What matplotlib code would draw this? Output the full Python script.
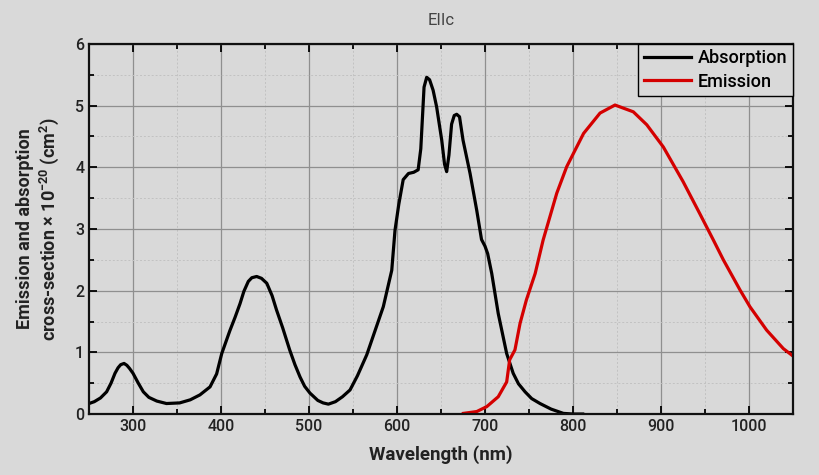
import matplotlib
matplotlib.use("Agg")
import matplotlib.pyplot as plt
from matplotlib.ticker import MultipleLocator

# absorption spectrum (nm, 1e-20 cm^2)
abs_wl = [250, 256, 263, 270, 275, 279.5, 283, 286, 289.8, 293, 296, 300, 306, 311.7, 318, 327,
          338, 353, 365, 376, 387.5, 395, 400.8, 410, 416, 421.6, 426, 431, 435, 440.5, 446,
          452, 458, 463, 470, 478, 484, 489.8, 495, 501, 510, 516, 522, 530, 538, 546.6, 555,
          565.6, 575, 584.4, 594, 597.7, 602, 607, 613, 619, 624, 627, 630.7, 633.7, 637,
          641, 645, 650.8, 654, 656.4, 659, 662, 665, 667.8, 671, 675, 683, 690.6, 696, 700,
          703, 707.6, 715, 724.6, 732, 738, 745.5, 753, 762.5, 775, 789, 800, 811]
abs_val = [0.17, 0.2, 0.26, 0.36, 0.5, 0.66, 0.75, 0.8, 0.82, 0.79, 0.74, 0.66, 0.5, 0.36, 0.27,
           0.21, 0.17, 0.18, 0.23, 0.31, 0.44, 0.65, 0.98, 1.35, 1.57, 1.79, 1.99, 2.15, 2.21,
           2.23, 2.2, 2.12, 1.92, 1.69, 1.4, 1.04, 0.8, 0.6, 0.45, 0.34, 0.22, 0.18, 0.16, 0.2,
           0.28, 0.39, 0.62, 0.96, 1.35, 1.74, 2.33, 2.98, 3.4, 3.8, 3.9, 3.92, 3.96, 4.3, 5.3,
           5.46, 5.42, 5.25, 4.98, 4.44, 4.05, 3.93, 4.2, 4.7, 4.84, 4.86, 4.82, 4.44, 3.9,
           3.3, 2.83, 2.72, 2.6, 2.28, 1.63, 0.98, 0.66, 0.49, 0.36, 0.25, 0.17, 0.08, 0.01,
           0.0, 0.0]

# emission spectrum
em_wl = [675.4, 690.6, 702, 715, 724.6, 728, 734, 739.8, 747, 757, 766, 781.5, 792.8, 812,
         830.7, 847.7, 868.5, 883.8, 902.6, 925, 944, 959.5, 970.8, 989.8, 1001, 1020,
         1039, 1050]
em_val = [0.01, 0.04, 0.12, 0.28, 0.52, 0.88, 1.04, 1.47, 1.85, 2.28, 2.82, 3.58, 4.01, 4.55,
          4.88, 5.01, 4.9, 4.69, 4.33, 3.77, 3.25, 2.82, 2.5, 2.01, 1.74, 1.36,
          1.06, 0.94]

bg = "#d9d9d9"
plt.rcParams["font.family"] = ["Roboto", "DejaVu Sans"]
plt.rcParams["mathtext.fontset"] = "custom"
plt.rcParams["mathtext.rm"] = "Roboto"
plt.rcParams["mathtext.bf"] = "Roboto:bold"

fig = plt.figure(figsize=(8.19, 4.75), dpi=100, facecolor=bg)
ax = fig.add_axes([0.1087, 0.1284, 0.8596, 0.779])
ax.set_facecolor(bg)

ax.plot(abs_wl, abs_val, color="black", lw=2.3, label="Absorption")
ax.plot(em_wl, em_val, color="#d40000", lw=2.3, label="Emission")

ax.set_xlim(250, 1050)
ax.set_ylim(0, 6)
ax.xaxis.set_major_locator(MultipleLocator(100))
ax.xaxis.set_minor_locator(MultipleLocator(50))
ax.yaxis.set_major_locator(MultipleLocator(1))
ax.yaxis.set_minor_locator(MultipleLocator(0.5))

ax.grid(which="major", color="#8f8f8f", lw=0.9)
ax.grid(which="minor", color="#c2c2c2", lw=0.7, ls=(0, (2, 2)))
ax.set_axisbelow(True)

ax.tick_params(which="both", direction="in", top=True, right=True, width=1.3,
               labelsize=11.5, colors="black", labelcolor="#222222")
ax.tick_params(which="major", length=6)
ax.tick_params(which="minor", length=3.5)
for lab in ax.get_xticklabels() + ax.get_yticklabels():
    lab.set_fontweight("medium")
for s in ax.spines.values():
    s.set_linewidth(1.6)
    s.set_color("#111111")

ax.set_xlabel("Wavelength (nm)", fontsize=13.5, fontweight="bold", color="#222222", labelpad=8)
ax.set_ylabel("Emission and absorption\ncross-section \u00d7 10$^{\\mathbf{-20}}$ (cm$^{\\mathbf{2}}$)",
              fontsize=13, fontweight="bold", color="#222222", labelpad=10)
ax.set_title("EIIc", fontsize=12, color="#444444", pad=14)

leg = ax.legend(loc="upper right", bbox_to_anchor=(1.0, 1.0),
                prop={"size": 13, "weight": "medium"},
                frameon=True, fancybox=False, borderaxespad=0, handlelength=2.6,
                handletextpad=0.4, borderpad=0.3, labelspacing=0.3)
leg.get_frame().set_edgecolor("black")
leg.get_frame().set_facecolor(bg)
leg.get_frame().set_alpha(1)
leg.get_frame().set_linewidth(1.0)

fig.savefig("out.png", dpi=100, facecolor=bg)
